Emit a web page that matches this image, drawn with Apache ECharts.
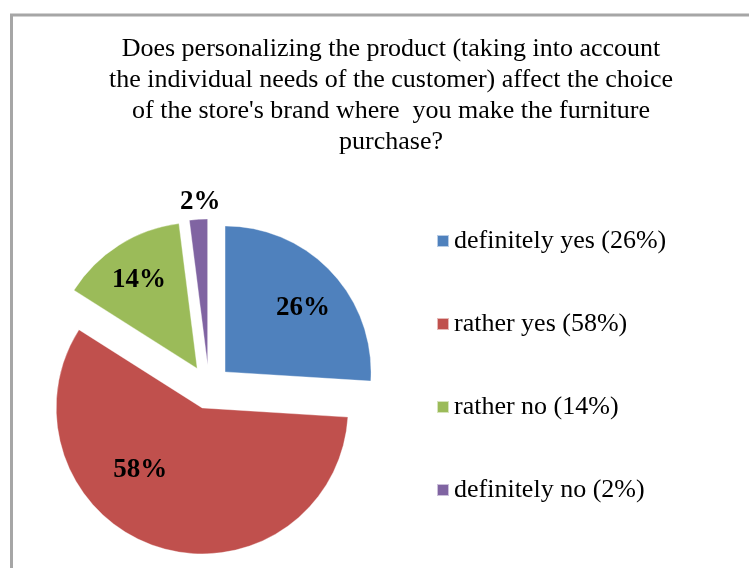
<!DOCTYPE html>
<html>
<head>
<meta charset="utf-8">
<style>
  html, body { margin: 0; padding: 0; background: #ffffff; }
  #chart { width: 749px; height: 568px; }
</style>
<script src="https://cdn.jsdelivr.net/npm/echarts@6/dist/echarts.min.js"></script>
</head>
<body>
<div id="chart"></div>
<script>
// Survey answers and their shares (%)
const answers = ['definitely yes', 'rather yes', 'rather no', 'definitely no'];
const shares = [26, 58, 14, 2];
const sliceColors = ['#4F81BD', '#C0504D', '#9BBB59', '#8064A2'];

const titleText = 'Does personalizing the product (taking into account\n' +
  'the individual needs of the customer) affect the choice\n' +
  "of the store's brand where  you make the furniture\n" +
  'purchase?';

const serif = '"Liberation Serif", "Times New Roman", serif';
const center = [209, 387];
const outerR = 146;
const explode = 22;

// small label nudges so the percentages sit like in a spreadsheet chart
const labelNudge = [[3, 7], [-30, -36], [-3, -1], [-1, -60]];

const chart = echarts.init(document.getElementById('chart'), null, { renderer: 'canvas' });

const pieData = answers.map((name, i) => ({
  name: name,
  value: shares[i],
  selected: true,
  itemStyle: { color: sliceColors[i] }
}));

const labelData = answers.map((name, i) => ({
  name: name,
  value: shares[i],
  selected: true
}));

chart.setOption({
  animation: false,
  backgroundColor: '#ffffff',
  title: {
    text: titleText,
    left: 386,
    top: 29,
    textAlign: 'center',
    textStyle: {
      fontFamily: serif,
      fontWeight: 'normal',
      fontSize: 26,
      lineHeight: 31,
      color: '#000000'
    }
  },
  legend: {
    orient: 'vertical',
    left: 436,
    top: 228,
    padding: 0,
    itemWidth: 12,
    itemHeight: 12,
    itemGap: 57,
    icon: 'rect',
    selectedMode: false,
    data: answers,
    formatter: function (name) {
      return name + ' (' + shares[answers.indexOf(name)] + '%)';
    },
    textStyle: {
      fontFamily: serif,
      fontSize: 26,
      color: '#000000'
    }
  },
  graphic: [{
    type: 'rect',
    shape: { x: 11.5, y: 15, width: 900, height: 700 },
    style: { fill: 'none', stroke: '#a6a6a6', lineWidth: 3 },
    silent: true,
    z: -10
  }],
  series: [
    {
      type: 'pie',
      center: center,
      radius: [0, outerR],
      startAngle: 90,
      clockwise: true,
      selectedMode: 'multiple',
      selectedOffset: explode,
      silent: true,
      label: { show: false },
      labelLine: { show: false },
      itemStyle: { borderColor: 'rgba(255,255,255,0.6)', borderWidth: 0.6 },
      emphasis: { disabled: true },
      select: { itemStyle: { borderColor: 'rgba(255,255,255,0.6)', borderWidth: 0.6 } },
      data: pieData
    },
    {
      // transparent twin ring that carries the percentage labels
      type: 'pie',
      center: center,
      radius: [54, outerR],
      startAngle: 90,
      clockwise: true,
      selectedMode: 'multiple',
      selectedOffset: explode,
      silent: true,
      itemStyle: { color: 'rgba(0,0,0,0)' },
      select: { itemStyle: { color: 'rgba(0,0,0,0)', borderWidth: 0 } },
      emphasis: { disabled: true },
      labelLine: { show: false },
      label: {
        show: true,
        position: 'inside',
        formatter: '{c}%',
        fontFamily: serif,
        fontWeight: 'bold',
        fontSize: 27,
        color: '#000000'
      },
      labelLayout: function (params) {
        const n = labelNudge[params.dataIndex];
        return { dx: n[0], dy: n[1] };
      },
      data: labelData
    }
  ]
});
</script>
</body>
</html>
